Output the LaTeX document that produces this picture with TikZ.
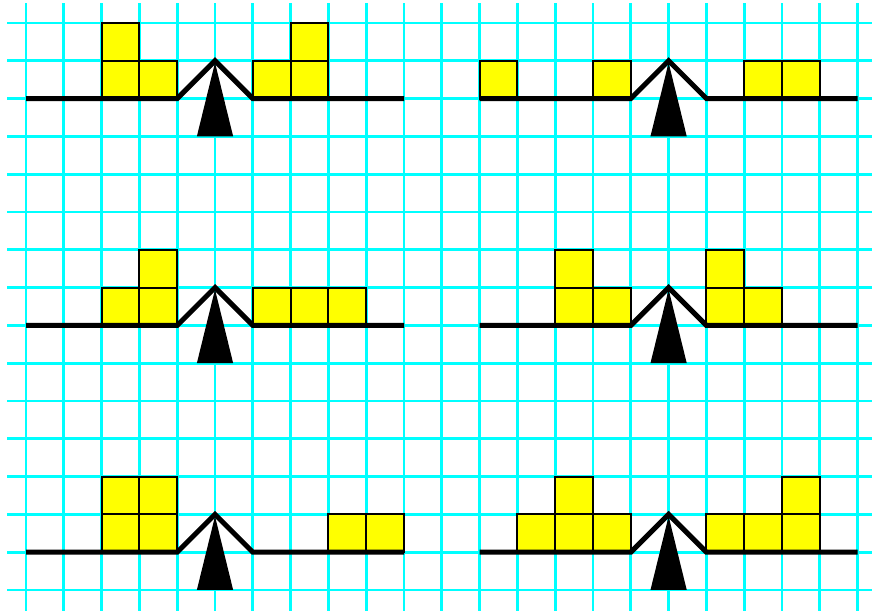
\documentclass[tikz,border=0pt]{standalone}
\usepackage{tikz}
\definecolor{gridcyan}{HTML}{00FFFF}
\definecolor{boxyellow}{HTML}{FFFF00}
\tikzset{
  gridline/.style={draw=gridcyan, line width=2.2pt},
  weight/.style={fill=boxyellow, draw=black, line width=1.6pt},
  beam/.style={draw=black, line width=3.8pt, line join=miter, line cap=butt},
  fulcrum/.style={fill=black, draw=none}
}
\newcommand\drawbalance[2]{%
  \fill[fulcrum] (#1-0.48,#2-1) -- (#1,#2+0.95) -- (#1+0.48,#2-1) -- cycle;
  \draw[beam] (#1-5,#2) -- (#1-1,#2) -- (#1,#2+1) -- (#1+1,#2) -- (#1+5,#2);
}
\begin{document}
\begin{tikzpicture}[x=1cm,y=1cm]
\useasboundingbox (-0.688,-0.556) rectangle (22.381,15.608);
\begin{scope}
\clip (-0.688,-0.556) rectangle (22.381,15.608);
\foreach \i in {0,...,22} \draw[gridline] (\i,-0.7) -- (\i,15.53);
\foreach \j in {0,...,15} \draw[gridline] (-0.5,\j) -- (22.6,\j);
\end{scope}
% weights
\foreach \p in {(2,13),(2,14),(3,13),(6,13),(7,13),(7,14),
                (12,13),(15,13),(19,13),(20,13),
                (2,7),(3,7),(3,8),(6,7),(7,7),(8,7),
                (14,7),(14,8),(15,7),(18,7),(18,8),(19,7),
                (2,1),(2,2),(3,1),(3,2),(8,1),(9,1),
                (13,1),(14,1),(14,2),(15,1),(18,1),(19,1),(20,1),(20,2)}
  \draw[weight] \p rectangle ++(1,1);
% balances
\drawbalance{5}{13}
\drawbalance{17}{13}
\drawbalance{5}{7}
\drawbalance{17}{7}
\drawbalance{5}{1}
\drawbalance{17}{1}
\end{tikzpicture}
\end{document}
